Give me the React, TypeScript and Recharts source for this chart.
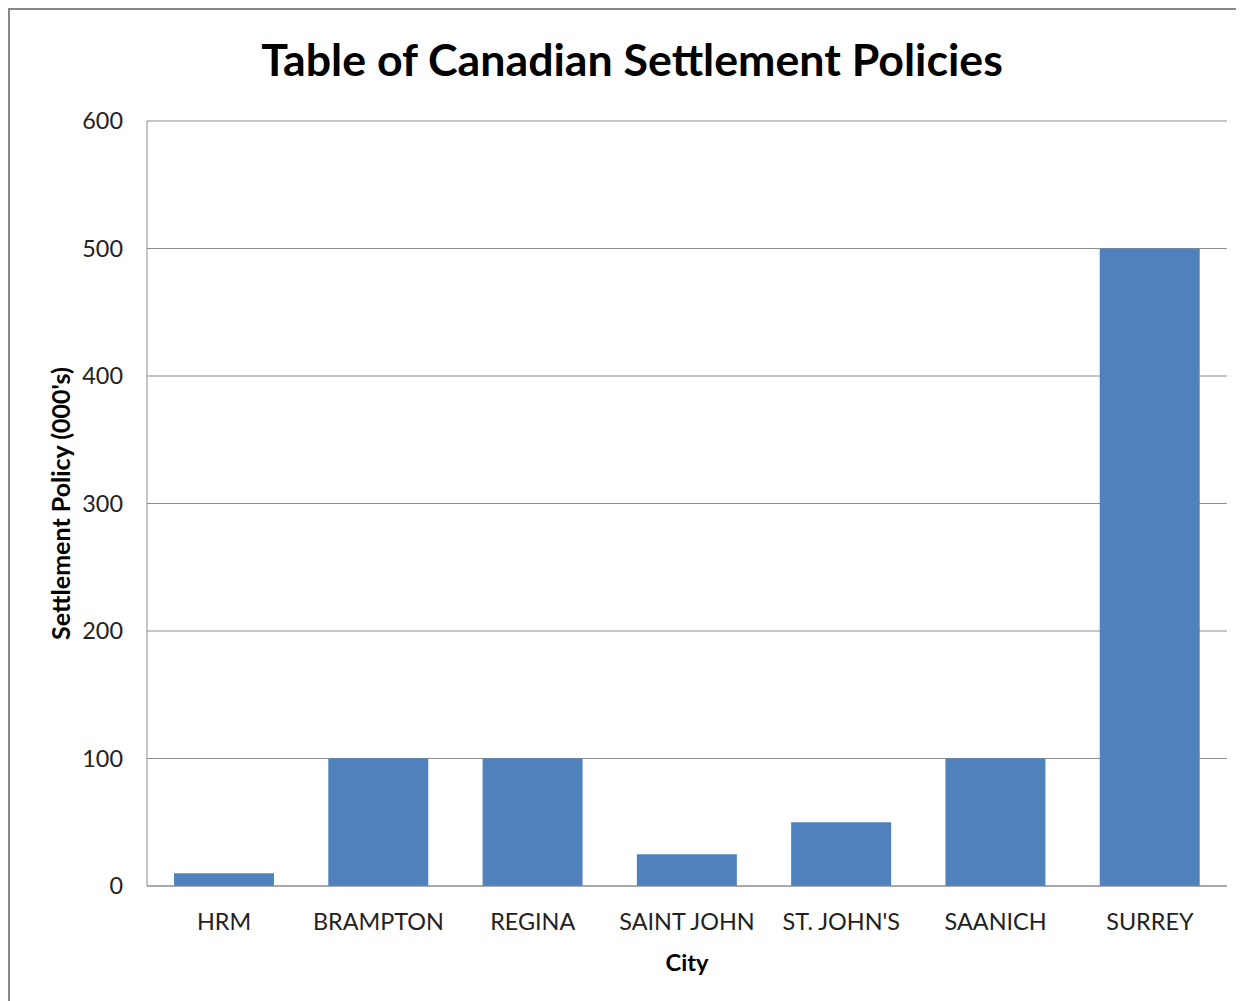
import React from 'react';
import { BarChart, Bar, XAxis, YAxis, CartesianGrid, Label } from 'recharts';

const cities = ['HRM', 'BRAMPTON', 'REGINA', 'SAINT JOHN', "ST. JOHN'S", 'SAANICH', 'SURREY'];
const policies = [10, 100, 100, 25, 50, 100, 500];
const yTicks = [0, 100, 200, 300, 400, 500, 600];

const data = cities.map((c, i) => ({ city: c, value: policies[i] }));

const FONT = 'Lato, "Open Sans", sans-serif';

export default function App() {
  return (
    <div style={{ position: 'relative', width: 1236, height: 993, fontFamily: FONT }}>
      <div
        style={{
          position: 'absolute',
          left: 0,
          top: 0,
          width: 1250,
          height: 1010,
          borderLeft: '2px solid #888',
          borderTop: '2px solid #888',
          boxSizing: 'border-box',
        }}
      />
      <div
        style={{
          position: 'absolute',
          left: 0,
          width: 1248,
          top: 24,
          textAlign: 'center',
          fontSize: 44.7,
          fontWeight: 700,
          color: '#000',
          lineHeight: '54px',
        }}
      >
        Table of Canadian Settlement Policies
      </div>
      <BarChart
        width={1236}
        height={993}
        data={data}
        margin={{ top: 113, right: 17, bottom: 85, left: 0 }}
        barCategoryGap="17.5%"
        style={{ position: 'absolute', left: 0, top: 0 }}
      >
        <CartesianGrid vertical={false} stroke="#8c8c8c" strokeWidth={1} />
        <XAxis
          dataKey="city"
          stroke="#8c8c8c"
          tickLine={false}
          tick={{ fill: '#222', fontSize: 23.4, fontFamily: FONT }}
          tickMargin={21}
          interval={0}
        >
          <Label value="City" position="bottom" offset={38} style={{ fill: '#000', fontSize: 23.7, fontWeight: 700, fontFamily: FONT }} />
        </XAxis>
        <YAxis
          width={139}
          domain={[0, 600]}
          ticks={yTicks}
          stroke="#8c8c8c"
          tickLine={false}
          tick={{ fill: '#222', fontSize: 23.4, fontFamily: FONT }}
          tickMargin={18}
          interval={0}
        >
          <Label
            value="Settlement Policy (000's)"
            angle={-90}
            position="insideLeft"
            offset={53}
            style={{ textAnchor: 'middle', fill: '#000', fontSize: 25, fontWeight: 700, fontFamily: FONT }}
          />
        </YAxis>
        <Bar dataKey="value" fill="#4F81BD" isAnimationActive={false} />
      </BarChart>
    </div>
  );
}
